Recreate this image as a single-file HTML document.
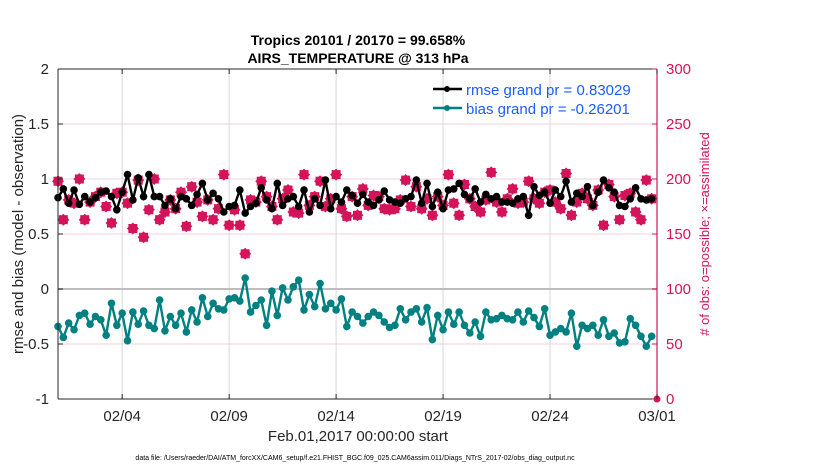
<!DOCTYPE html>
<html><head><meta charset="utf-8"><style>
body{margin:0;background:#fff;}
svg text{font-family:"Liberation Sans",Arial,sans-serif;}
</style></head><body>
<svg id="chart" width="830" height="470" viewBox="0 0 830 470" xmlns="http://www.w3.org/2000/svg">
<rect x="0" y="0" width="830" height="470" fill="#fff"/>
<g id="grid"></g>
<g id="series"></g>
<g id="axes"></g>
<text x="358" y="45" text-anchor="middle" font-size="14" font-weight="bold" fill="#000">Tropics 20101 / 20170 = 99.658%</text>
<text x="358" y="63" text-anchor="middle" font-size="14" font-weight="bold" fill="#000">AIRS_TEMPERATURE @ 313 hPa</text>
<text transform="translate(23,234) rotate(-90)" text-anchor="middle" font-size="15" fill="#262626">rmse and bias (model - observation)</text>
<text transform="translate(709,234) rotate(-90)" text-anchor="middle" font-size="13" fill="#d4145a"># of obs: o=possible; ×=assimilated</text>
<text x="358" y="441" text-anchor="middle" font-size="15" fill="#262626">Feb.01,2017 00:00:00 start</text>
<text x="355" y="460" text-anchor="middle" font-size="7" fill="#000">data file: /Users/raeder/DAI/ATM_forcXX/CAM6_setup/f.e21.FHIST_BGC.f09_025.CAM6assim.011/Diags_NTrS_2017-02/obs_diag_output.nc</text>
<g>
<line x1="433" y1="89" x2="462" y2="89" stroke="#000" stroke-width="2.5"/>
<circle cx="447" cy="89" r="3" fill="#000"/>
<text x="466" y="95" font-size="15" fill="#1a5cff">rmse grand pr = 0.83029</text>
<line x1="433" y1="108" x2="462" y2="108" stroke="#008080" stroke-width="2.5"/>
<circle cx="447" cy="108" r="3" fill="#008080"/>
<text x="466" y="114" font-size="15" fill="#1a5cff">bias grand pr = -0.26201</text>
</g>
</svg>
<script>
const rmse = [0.83,0.91,0.78,0.90,0.77,0.84,0.79,0.83,0.88,0.89,0.84,0.72,0.88,1.04,0.81,1.01,0.84,1.04,0.84,0.84,0.76,0.82,0.73,0.84,0.82,0.76,0.86,0.96,
0.81,0.87,0.82,0.70,0.75,0.76,0.90,0.69,0.75,0.78,0.92,0.81,0.73,0.96,0.76,0.82,0.84,0.75,0.90,0.70,0.82,0.76,0.99,0.73,0.84,0.79,0.90,0.85,
0.78,0.86,0.79,0.76,0.81,0.89,0.81,0.79,0.78,0.82,0.84,0.99,0.78,0.96,0.75,0.88,0.73,0.90,0.91,0.96,0.86,0.82,0.91,0.79,0.86,0.82,0.84,0.79,
0.79,0.78,0.82,0.84,0.67,0.93,0.85,0.88,0.78,0.90,0.84,0.98,0.79,0.87,0.84,0.93,0.76,0.88,0.99,0.92,0.88,0.76,0.75,0.82,0.92,0.82,0.81,0.82];
const bias = [-0.34,-0.44,-0.31,-0.37,-0.24,-0.22,-0.32,-0.25,-0.28,-0.42,-0.13,-0.33,-0.22,-0.47,-0.21,-0.32,-0.20,-0.33,-0.36,-0.10,-0.38,-0.25,-0.33,-0.22,-0.39,-0.19,-0.30,-0.08,
-0.25,-0.13,-0.18,-0.19,-0.09,-0.08,-0.11,0.10,-0.21,-0.15,-0.10,-0.33,-0.02,-0.24,0.01,-0.10,0.02,0.08,-0.19,-0.05,-0.16,0.05,-0.18,-0.13,-0.19,-0.09,-0.34,-0.21,
-0.25,-0.31,-0.25,-0.21,-0.24,-0.30,-0.35,-0.33,-0.18,-0.28,-0.21,-0.18,-0.30,-0.17,-0.46,-0.24,-0.37,-0.21,-0.32,-0.21,-0.33,-0.40,-0.30,-0.43,-0.21,-0.28,-0.27,-0.24,
-0.27,-0.28,-0.21,-0.30,-0.20,-0.26,-0.34,-0.18,-0.42,-0.39,-0.36,-0.39,-0.22,-0.52,-0.33,-0.36,-0.33,-0.42,-0.28,-0.43,-0.40,-0.49,-0.48,-0.27,-0.33,-0.43,-0.52,-0.43];
const nobs = [198,163,181,178,200,163,179,184,188,175,160,187,188,178,155,199,147,172,200,163,170,181,173,188,157,193,179,166,
181,163,173,204,158,172,158,132,181,179,198,184,175,163,182,190,170,169,204,176,184,198,175,182,204,173,166,184,
167,191,176,185,184,173,172,173,181,199,175,193,173,182,167,184,176,204,178,167,195,182,175,170,181,206,179,170,
182,191,178,179,198,182,178,188,190,179,173,205,167,179,187,182,176,190,158,195,184,163,185,187,170,163,199,182];
const xTickDays = [3,8,13,18,23,28];
const xTickLabels = ["02/04","02/09","02/14","02/19","02/24","03/01"];
const yLeftTicks = [-1,-0.5,0,0.5,1,1.5,2];
const yLeftLabels = ["-1","-0.5","0","0.5","1","1.5","2"];
const yRightTicks = [0,50,100,150,200,250,300];
const stepDays = 0.25;

const L=58,R=657,T=69,B=399,NS="http://www.w3.org/2000/svg";
const xS=d=>L+(d/28)*(R-L);
const yL=v=>B-(v+1)/3*(B-T);
const yR=c=>B-c/300*(B-T);
function mk(tag,attrs,parent){const e=document.createElementNS(NS,tag);for(const k in attrs)e.setAttribute(k,attrs[k]);parent.appendChild(e);return e;}
const grid=document.getElementById('grid'),ser=document.getElementById('series'),ax=document.getElementById('axes');

yRightTicks.forEach(c=>{const l=mk('line',{x1:L,x2:R,y1:yR(c),y2:yR(c),stroke:'#f2cfdc','stroke-width':1},grid);

});
xTickDays.forEach(d=>{const l=mk('line',{x1:xS(d),x2:xS(d),y1:T,y2:B,stroke:'#d8d8d8','stroke-width':1},grid);

});
const zl=mk('line',{x1:L,x2:R,y1:yL(0),y2:yL(0),stroke:'#bdbdbd','stroke-width':2},grid);



nobs.forEach((c,i)=>{const x=xS(i*stepDays),y=yR(c);
const g=mk('g',{},ser);


mk('path',{d:`M${x},${y-6}L${x+6},${y}L${x},${y+6}L${x-6},${y}Z`,fill:'#d4145a'},g);
mk('rect',{x:x-4.5,y:y-4.5,width:9,height:9,fill:'#d4145a'},g);});
const zc=mk('circle',{cx:xS(28),cy:yR(0),r:3.5,fill:'#d4145a'},ser);



function line(arr,color,name){
const pts=arr.map((v,i)=>xS(i*stepDays).toFixed(1)+','+yL(v).toFixed(1)).join(' ');
const p=mk('polyline',{points:pts,fill:'none',stroke:color,'stroke-width':2.4},ser);


arr.forEach((v,i)=>{const c=mk('circle',{cx:xS(i*stepDays),cy:yL(v),r:3.8,fill:color},ser);

});}
line(rmse,'#000','rmse');
line(bias,'#008080','bias');

mk('line',{x1:L,x2:R,y1:B,y2:B,stroke:'#262626','stroke-width':1},ax);
mk('line',{x1:L,x2:R,y1:T,y2:T,stroke:'#262626','stroke-width':1},ax);
mk('line',{x1:L,x2:L,y1:T,y2:B,stroke:'#262626','stroke-width':1},ax);
mk('line',{x1:R,x2:R,y1:T,y2:B,stroke:'#d4145a','stroke-width':1.2},ax);
xTickDays.forEach((d,i)=>{mk('line',{x1:xS(d),x2:xS(d),y1:B,y2:B-5,stroke:'#262626'},ax);
mk('line',{x1:xS(d),x2:xS(d),y1:T,y2:T+5,stroke:'#262626'},ax);
const t=mk('text',{x:xS(d),y:B+22,'text-anchor':'middle','font-size':'15',fill:'#262626'},ax);t.textContent=xTickLabels[i];

});
yLeftTicks.forEach((v,i)=>{mk('line',{x1:L,x2:L+5,y1:yL(v),y2:yL(v),stroke:'#262626'},ax);
const t=mk('text',{x:L-9,y:yL(v)+5,'text-anchor':'end','font-size':'15',fill:'#262626'},ax);t.textContent=yLeftLabels[i];

});
yRightTicks.forEach(c=>{mk('line',{x1:R,x2:R-5,y1:yR(c),y2:yR(c),stroke:'#d4145a'},ax);
const t=mk('text',{x:R+9,y:yR(c)+5,'font-size':'15',fill:'#d4145a'},ax);t.textContent=String(c);

});
</script>
</body></html>
